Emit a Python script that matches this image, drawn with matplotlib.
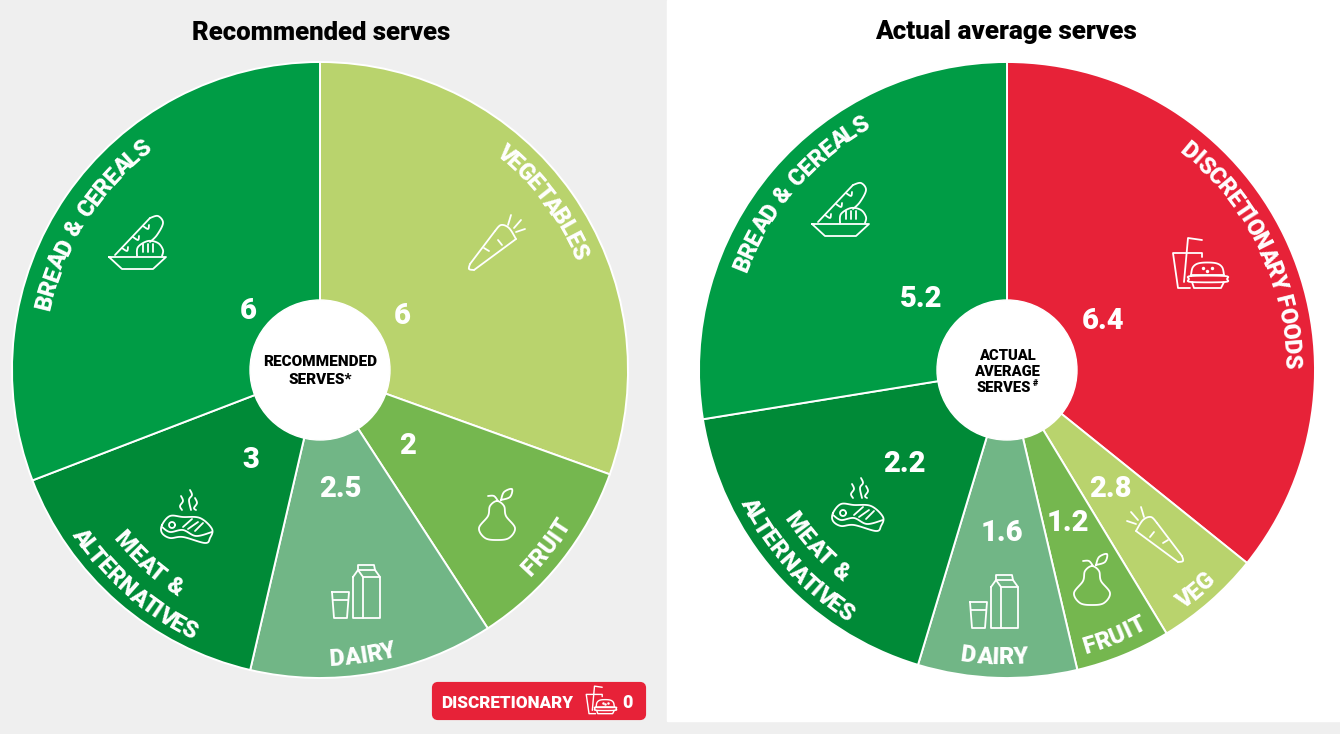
import matplotlib
matplotlib.use("Agg")
import matplotlib.pyplot as plt
import numpy as np
from matplotlib import font_manager as fm
from matplotlib.patches import Circle, FancyBboxPatch, Rectangle
from matplotlib.textpath import text_to_path

# recommended serves, clockwise from 12 o'clock
# slice widths are read off the picture (degrees), they are close to but not quite the serves
rec_groups = ["VEGETABLES", "FRUIT", "DAIRY", "MEAT", "BREAD"]
rec_serves = [6, 2, 2.5, 3, 6]
rec_slice_deg = [109.8, 37.2, 46.1, 55.9, 111]

# actual serves. the printed slices are not in proportion to the printed numbers
act_groups = ["DISCRETIONARY", "VEG", "FRUIT", "DAIRY", "MEAT", "BREAD"]
act_serves = ["6.4", "2.8", "1.2", "1.6", "2.2", "5.2"]
act_slice_deg = [128.8, 20, 18, 30, 64, 99.2]

colours = {"VEGETABLES": "#b9d36d", "VEG": "#b9d36d", "FRUIT": "#75b74f", "DAIRY": "#71b686",
           "MEAT": "#008a37", "BREAD": "#009c45", "DISCRETIONARY": "#e72238"}

FONT = "Roboto"
WEIGHT = 900
PX = 72 / 100  # points per pixel at dpi 100
TIGHT_PAIRS = ("TA", "AT", "LT", "AL", "RY", "AV", "VE", "TI")

fig = plt.figure(figsize=(13.4, 7.34), dpi=100)
ax = fig.add_axes([0, 0, 1, 1])


def smooth(pts, closed=False, n=12):
    # catmull-rom through the points, for the icon outlines
    p = np.array(pts, float)
    if closed:
        p = np.vstack([p[-1], p, p[0], p[1]])
    else:
        p = np.vstack([p[0], p, p[-1]])
    out = []
    for i in range(1, len(p) - 2):
        for t in np.linspace(0, 1, n, endpoint=False):
            out.append(0.5 * (2 * p[i] + (p[i + 1] - p[i - 1]) * t
                              + (2 * p[i - 1] - 5 * p[i] + 4 * p[i + 1] - p[i + 2]) * t ** 2
                              + (3 * p[i] - p[i - 1] - 3 * p[i + 1] + p[i + 2]) * t ** 3))
    out.append(p[-2])
    return np.array(out)


def stroke(cx, cy, pts, s=1.0, flip=1, lw=1.3):
    p = np.array(pts, float)
    ax.plot(cx + flip * s * p[:, 0], cy + s * p[:, 1], color="white", lw=lw,
            solid_capstyle="round", solid_joinstyle="round", zorder=6)


def bread_icon(cx, cy):
    stroke(cx, cy, [(-28, 14), (29, 14), (16, 26), (-15, 26), (-28, 14)])
    stroke(cx, cy, [(-22, 12), (13, -25)])
    stroke(cx, cy, smooth([(13, -25), (21, -27), (26, -20), (20, -8), (13, -1)]))
    stroke(cx, cy, smooth([(0, 13), (1, 4), (11, -2), (21, 0), (26, 7), (25, 13)]))
    for x in (6, 11, 16):
        stroke(cx, cy, [(x, 1), (x, 9)])
    for x, y in ((-15, 5), (-4, -6), (6, -17)):
        stroke(cx, cy, smooth([(x, y), (x + 5, y + 3), (x + 6, y - 1)], n=5))


def carrot_icon(cx, cy, flip=1):
    stroke(cx, cy, smooth([(-19, -4), (-12, -15), (-4, -18), (2, -12)], n=8), flip=flip)
    stroke(cx, cy, [(2, -12), (27, 21)], flip=flip)
    stroke(cx, cy, smooth([(27, 21), (28, 26), (23, 27)], n=5), flip=flip)
    stroke(cx, cy, [(23, 27), (-19, -4)], flip=flip)
    stroke(cx, cy, [(-24, -23), (-17, -15)], flip=flip)
    stroke(cx, cy, [(-14, -28), (-11, -18)], flip=flip)
    stroke(cx, cy, [(-28, -14), (-19, -11)], flip=flip)
    stroke(cx, cy, [(8, 8), (13, 5)], flip=flip)
    stroke(cx, cy, [(-5, 2), (-1, -3)], flip=flip)


def pear_icon(cx, cy):
    stroke(cx, cy, smooth([(0, -14), (-7, -9), (-9, 1), (-18, 13), (-12, 23), (0, 25), (12, 23),
                           (18, 13), (9, 1), (7, -9)], closed=True))
    stroke(cx, cy, smooth([(-9, -19), (-3, -19), (1, -14)], n=5))
    stroke(cx, cy, smooth([(4, -15), (7, -23), (15, -26), (13, -18), (4, -15)], n=5))


def milk_icon(cx, cy):
    stroke(cx, cy, [(-2, -15), (3, -22), (20, -22), (25, -15), (25, 26), (-2, 26), (-2, -15)])
    stroke(cx, cy, [(3, -22), (3, -27), (19, -27), (20, -22)])
    stroke(cx, cy, [(3, -22), (8, -15), (8, 26)])
    stroke(cx, cy, [(8, -15), (25, -15)])
    stroke(cx, cy, [(-23, 0), (-6, 0), (-8, 26), (-21, 26), (-23, 0)])
    stroke(cx, cy, [(-22, 8), (-7, 8)])


def steak_icon(cx, cy):
    stroke(cx, cy, smooth([(-25, 8), (-17, -1), (-4, 0), (13, 1), (25, 12), (23, 21), (18, 26),
                           (-4, 20), (-17, 21), (-25, 16)], closed=True))
    stroke(cx, cy, smooth([(-25, 10), (-17, 15), (-4, 13), (9, 19), (25, 15)]))
    t = np.linspace(0, 2 * np.pi, 30)
    stroke(cx, cy, np.c_[-15 + 3 * np.cos(t), 8 + 3 * np.sin(t)])
    for a, b in (((-4, 10), (5, 2)), ((1, 12), (11, 5)), ((8, 14), (16, 6))):
        stroke(cx, cy, [a, b])
    for x, top in ((-6, -21), (3, -27), (8, -19)):
        stroke(cx, cy, smooth([(x, top), (x + 2, top + 5), (x - 1, top + 10), (x + 1, -7)], n=6))


def burger_icon(cx, cy, s=1.0, lw=1.3):
    stroke(cx, cy, [(4, -8), (4, -12), (-25, -12), (-20, 23), (-8, 23)], s, lw=lw)
    stroke(cx, cy, [(-14, 17), (-10, -27), (4, -25)], s, lw=lw)
    stroke(cx, cy, smooth([(-7, 10), (-5, 2), (2, -2), (17, -2), (24, 2), (26, 10)], n=8), s, lw=lw)
    stroke(cx, cy, [(-7, 10), (26, 10)], s, lw=lw)
    stroke(cx, cy, smooth([(-7, 11), (27, 11), (29, 14), (27, 17), (-7, 17), (-9, 14)], closed=True, n=5), s, lw=lw)
    stroke(cx, cy, [(-6, 17), (-4, 23), (23, 23), (26, 17)], s, lw=lw)
    ax.scatter(cx + s * np.array([5, 14, 9]), cy + s * np.array([3, 3, 6]), s=6 * s, color="white", zorder=6, linewidths=0)


def arc_text(cx, cy, s, r, centre, size=16.8, inward=False, gap=-0.005):
    # one rotated text per letter so the word follows the rim, letters evenly spaced
    prop = fm.FontProperties(family=FONT, weight=WEIGHT, size=size)
    em = size / PX
    w = [0.3 * em if ch == " " else text_to_path.get_text_width_height_descent(ch, prop, False)[0] / PX
         for ch in s]
    steps = [w[i] + gap * em - (0.07 * em if s[i:i + 2] in TIGHT_PAIRS else 0) for i in range(len(s))]
    edges = np.concatenate([[0], np.cumsum(steps)])
    cap = 0.711 * em
    base = r + cap / 2 if inward else r - cap / 2
    for i, ch in enumerate(s):
        if ch == " ":
            continue
        mid = edges[i] + w[i] / 2 - edges[-1] / 2
        d = np.degrees(mid / r)
        th = centre - d if inward else centre + d
        x = cx + base * np.sin(np.radians(th))
        y = cy - base * np.cos(np.radians(th))
        ax.text(x, y, ch, fontproperties=prop, color="white", ha="center", va="baseline",
                rotation=(180 - th) if inward else -th, rotation_mode="anchor", zorder=5)


def label(x, y, s, size=21, color="white", **kw):
    ax.text(x, y, s, family=FONT, weight=WEIGHT, fontsize=size, color=color, ha="center", va="center", zorder=7, **kw)


ax.add_patch(Rectangle((0, 0), 1340, 734, color="#efefef", zorder=0))
ax.add_patch(Rectangle((667, 0), 673, 721, color="white", zorder=1))

edge = {"edgecolor": "white", "linewidth": 1.4, "zorder": 2}
ax.pie(rec_slice_deg, colors=[colours[g] for g in rec_groups], center=(320, 370), radius=308,
       startangle=-90, counterclock=True, wedgeprops=edge)
ax.pie(act_slice_deg, colors=[colours[g] for g in act_groups], center=(1007, 370), radius=308,
       startangle=-90, counterclock=True, wedgeprops=edge)
ax.add_patch(Circle((320, 370), 70, color="white", zorder=3))
ax.add_patch(Circle((1007, 370), 70, color="white", zorder=3))

ax.set_xlim(0, 1340)
ax.set_ylim(734, 0)
ax.set_aspect("equal")
ax.axis("off")

label(321, 33, "Recommended serves", size=18.5, color="black")
label(1006, 32, "Actual average serves", size=18.8, color="black")

label(320, 371, "RECOMMENDED\nSERVES*", size=11, color="black", linespacing=1.3)
label(1007, 355.5, "ACTUAL", size=10.6, color="black")
label(1007, 371.5, "AVERAGE", size=10.6, color="black")
label(1004, 387.5, "SERVES", size=10.6, color="black")
label(1035, 383, "#", size=6.5, color="black")

for x, y, v in ((402, 316, rec_serves[0]), (408, 446, rec_serves[1]), (340, 489, rec_serves[2]),
                (251, 460, rec_serves[3]), (248, 311, rec_serves[4])):
    label(x, y, str(v))
for (x, y), v in zip(((1103, 321), (1110, 489), (1068, 523), (1002, 533), (904, 464), (921, 299)), act_serves):
    label(x, y, v)

arc_text(320, 370, "BREAD & CEREALS", 285, -57.5)
arc_text(320, 370, "VEGETABLES", 286, 53)
arc_text(320, 370, "FRUIT", 287, 128, inward=True)
arc_text(320, 370, "DAIRY", 288, 171.6, inward=True)
arc_text(320, 370, "MEAT &", 259, 221.5, inward=True)
arc_text(320, 370, "ALTERNATIVES", 290, 221, inward=True)

arc_text(1007, 370, "BREAD & CEREALS", 286, -49.5)
arc_text(1007, 370, "DISCRETIONARY FOODS", 286, 64)
arc_text(1007, 370, "MEAT &", 260, 227, inward=True)
arc_text(1007, 370, "ALTERNATIVES", 290, 228, inward=True)
arc_text(1007, 370, "DAIRY", 286, 182.6, inward=True)
arc_text(1007, 370, "FRUIT", 286, 158, inward=True)
arc_text(1007, 370, "VEG", 289, 139.5, inward=True)

bread_icon(137, 243)
carrot_icon(497, 243, flip=-1)
pear_icon(497, 515)
milk_icon(355, 592)
steak_icon(187, 517)

bread_icon(840, 210)
burger_icon(1198, 265)
carrot_icon(1155, 535)
pear_icon(1092, 580)
milk_icon(993, 602)
steak_icon(858, 505)

ax.add_patch(FancyBboxPatch((434, 684), 210, 34, boxstyle="round,pad=0,rounding_size=4",
                            mutation_aspect=1, facecolor="#e72238", edgecolor="#e72238", linewidth=3, zorder=4))
label(507, 703, "DISCRETIONARY", size=12.3)
label(627, 703, "0", size=13)
burger_icon(600, 701, s=0.55, lw=1.0)

fig.savefig("out.png", dpi=100)
